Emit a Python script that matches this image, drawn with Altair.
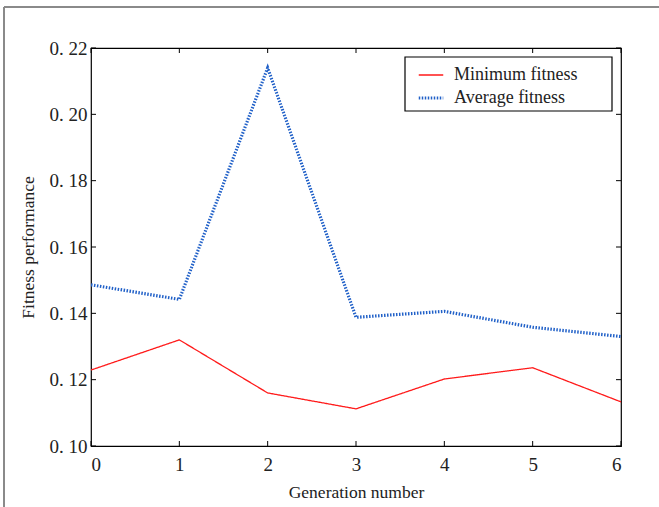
import altair as alt
import pandas as pd

generations = [0, 1, 2, 3, 4, 5, 6]
min_fitness = [0.1229, 0.1320, 0.1160, 0.1112, 0.1202, 0.1236, 0.1133]
avg_fitness = [0.1486, 0.1442, 0.2140, 0.1388, 0.1406, 0.1358, 0.1330]
series_names = ["Minimum fitness", "Average fitness"]
y_ticks = [0.10, 0.12, 0.14, 0.16, 0.18, 0.20, 0.22]
x_ticks = [0, 1, 2, 3, 4, 5, 6]

rows = []
for g, v in zip(generations, min_fitness):
    rows.append({"gen": g, "val": v, "series": series_names[0]})
for g, v in zip(generations, avg_fitness):
    rows.append({"gen": g, "val": v, "series": series_names[1]})
df = pd.DataFrame(rows)

W, H = 530, 398
FONT = "Liberation Serif"

xs = alt.Scale(domain=[0, 6], nice=False, zero=False)
ys = alt.Scale(domain=[0.10, 0.22], nice=False, zero=False)

lines = alt.Chart(df).mark_line(clip=True).encode(
    x=alt.X("gen:Q", scale=xs,
            axis=alt.Axis(title="Generation number", values=x_ticks, format="d",
                          grid=False, ticks=False, labelPadding=9, titlePadding=9)),
    y=alt.Y("val:Q", scale=ys,
            axis=alt.Axis(title="Fitness performance", values=y_ticks,
                          labelExpr="replace(format(datum.value, '.2f'), '.', '. ')",
                          grid=False, ticks=False, labelPadding=4, titlePadding=12)),
    color=alt.Color("series:N",
                    scale=alt.Scale(domain=series_names, range=["#ff1a1a", "#2060c8"]),
                    legend=alt.Legend(title=None, orient="none", legendX=326, legendY=14,
                                      padding=0, symbolType="stroke", symbolSize=600,
                                      symbolStrokeWidth=2, labelFont=FONT, labelFontSize=18,
                                      labelColor="#222", rowPadding=0, labelLimit=300,
                                      labelOffset=9)),
    strokeDash=alt.StrokeDash("series:N",
                              scale=alt.Scale(domain=series_names, range=[[1, 0], [1.5, 1.5]]),
                              legend=None),
    strokeWidth=alt.StrokeWidth("series:N",
                                scale=alt.Scale(domain=series_names, range=[1.3, 3.2]),
                                legend=None),
)

ytick_df = pd.DataFrame({"v": y_ticks})
xtick_df = pd.DataFrame({"g": x_ticks})

yl = alt.Chart(ytick_df).mark_rule(color="black", strokeWidth=1).encode(
    y=alt.Y("v:Q", scale=ys), x=alt.value(0), x2=alt.value(5))
yr = alt.Chart(ytick_df).mark_rule(color="black", strokeWidth=1).encode(
    y=alt.Y("v:Q", scale=ys), x=alt.value(W - 5), x2=alt.value(W))
xb = alt.Chart(xtick_df).mark_rule(color="black", strokeWidth=1).encode(
    x=alt.X("g:Q", scale=xs), y=alt.value(H - 5), y2=alt.value(H))
xt = alt.Chart(xtick_df).mark_rule(color="black", strokeWidth=1).encode(
    x=alt.X("g:Q", scale=xs), y=alt.value(0), y2=alt.value(5))

legend_box = alt.Chart(ytick_df.head(1)).mark_rect(fill="white", stroke="black", strokeWidth=1.2).encode(
    x=alt.value(314), x2=alt.value(521), y=alt.value(9), y2=alt.value(63))

frame_left = alt.Chart(ytick_df).mark_rule(color="#8a8a8a", strokeWidth=2).encode(
    x=alt.value(-87), y=alt.value(-41), y2=alt.value(470))
frame_top = alt.Chart(ytick_df).mark_rule(color="#8a8a8a", strokeWidth=2).encode(
    y=alt.value(-41), x=alt.value(-87), x2=alt.value(580))

chart = alt.layer(frame_left, frame_top, lines, yl, yr, xb, xt, legend_box).properties(
    width=W, height=H,
    autosize=alt.AutoSizeParams(type="none"),
    padding={"left": 91, "top": 48, "right": 38, "bottom": 61},
    background="white",
).configure_view(stroke="black", strokeWidth=1.2).configure_axis(
    domain=False, labelFont=FONT, titleFont=FONT, labelFontSize=19, titleFontSize=17.5,
    labelColor="#222", titleColor="#222", titleFontWeight="normal",
).configure_legend(labelFont=FONT, labelFontSize=18)

chart.save("out.html", embed_options={"renderer": "svg", "actions": False})
